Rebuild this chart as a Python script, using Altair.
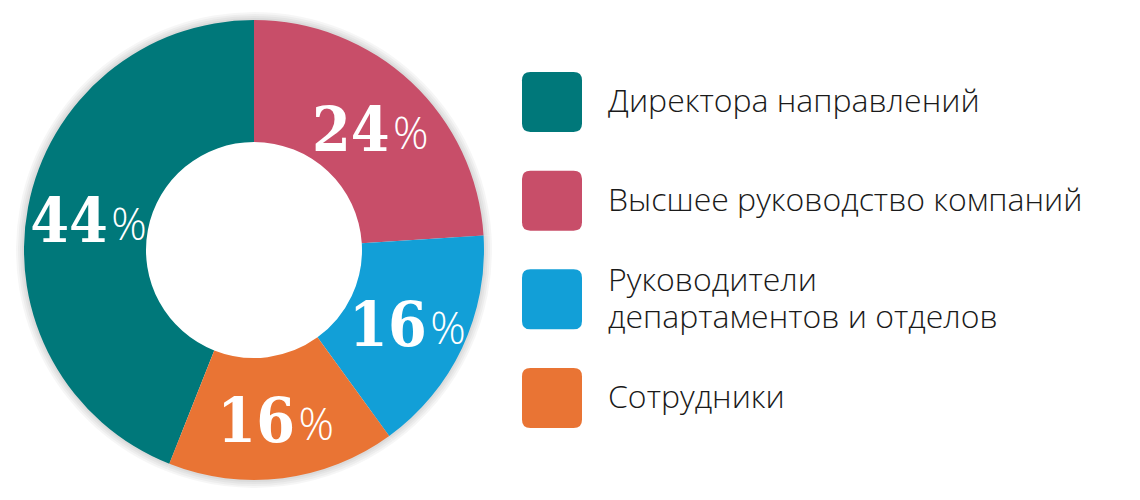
import altair as alt
import pandas as pd

categories = ["Директора направлений", "Высшее руководство компаний",
              "Руководители департаментов и отделов", "Сотрудники"]
legend_labels = ["Директора направлений", "Высшее руководство компаний",
                 "Руководители|департаментов и отделов", "Сотрудники"]
shares = [44, 24, 16, 16]
ring_order = [4, 1, 2, 3]
colors = ["#00787A", "#C84E69", "#129FD7", "#E97434"]

df = pd.DataFrame({
    "category": categories,
    "legend_label": legend_labels,
    "share": shares,
    "ring_order": ring_order,
})
df["digits"] = df["share"].astype(str)

color_scale = alt.Scale(domain=categories, range=colors)

base = alt.Chart(df).encode(
    theta=alt.Theta("share:Q", stack=True),
    order=alt.Order("ring_order:Q"),
)

shadow_layers = [
    base.mark_arc(innerRadius=200, outerRadius=r, color="#000000", opacity=0.035)
    for r in (232, 234, 236, 238)
]

arcs = base.mark_arc(innerRadius=108, outerRadius=230).encode(
    color=alt.Color("category:N", scale=color_scale, legend=None)
)

digits = base.mark_text(
    radius=169, font="DejaVu Serif Condensed, DejaVu Serif", fontSize=62,
    fontWeight="bold", color="white", dx=-19, dy=24, baseline="alphabetic",
    align="center",
).encode(text="digits:N")

pct = base.mark_text(
    radius=169, font="Open Sans", fontSize=44, fontWeight=300, color="white",
    dx=41, dy=22, baseline="alphabetic", align="center",
).encode(text=alt.value("%"))

donut = alt.layer(*shadow_layers, arcs, digits, pct).properties(width=460, height=460)

rounded = ("M-0.72,-1 L0.72,-1 Q1,-1 1,-0.72 L1,0.72 Q1,1 0.72,1 "
           "L-0.72,1 Q-1,1 -1,0.72 L-1,-0.72 Q-1,-1 -0.72,-1 Z")

leg = alt.Chart(df).encode(
    y=alt.Y("category:N", sort=categories,
            scale=alt.Scale(type="point", padding=0.83), axis=None)
)
squares = leg.mark_point(shape=rounded, size=3600, filled=True, opacity=1).encode(
    x=alt.value(30),
    color=alt.Color("category:N", scale=color_scale, legend=None),
)
text_style = dict(align="left", baseline="middle", font="Open Sans", fontSize=32,
                  fontWeight=300, color="#1a1a1a", lineBreak="|", lineHeight=37)
texts_single = leg.transform_filter(
    "indexof(datum.legend_label, '|') < 0"
).mark_text(**text_style).encode(x=alt.value(86), text="legend_label:N")
texts_multi = leg.transform_filter(
    "indexof(datum.legend_label, '|') >= 0"
).mark_text(dy=-18, **text_style).encode(x=alt.value(86), text="legend_label:N")

legend = alt.layer(squares, texts_single, texts_multi).properties(width=560, height=460)

chart = alt.hconcat(donut, legend, spacing=30).properties(
    padding={"left": 8, "top": 4, "right": 0, "bottom": 0}
).configure_view(stroke=None)

chart.save("out.html", embed_options={"renderer": "svg", "actions": False})
